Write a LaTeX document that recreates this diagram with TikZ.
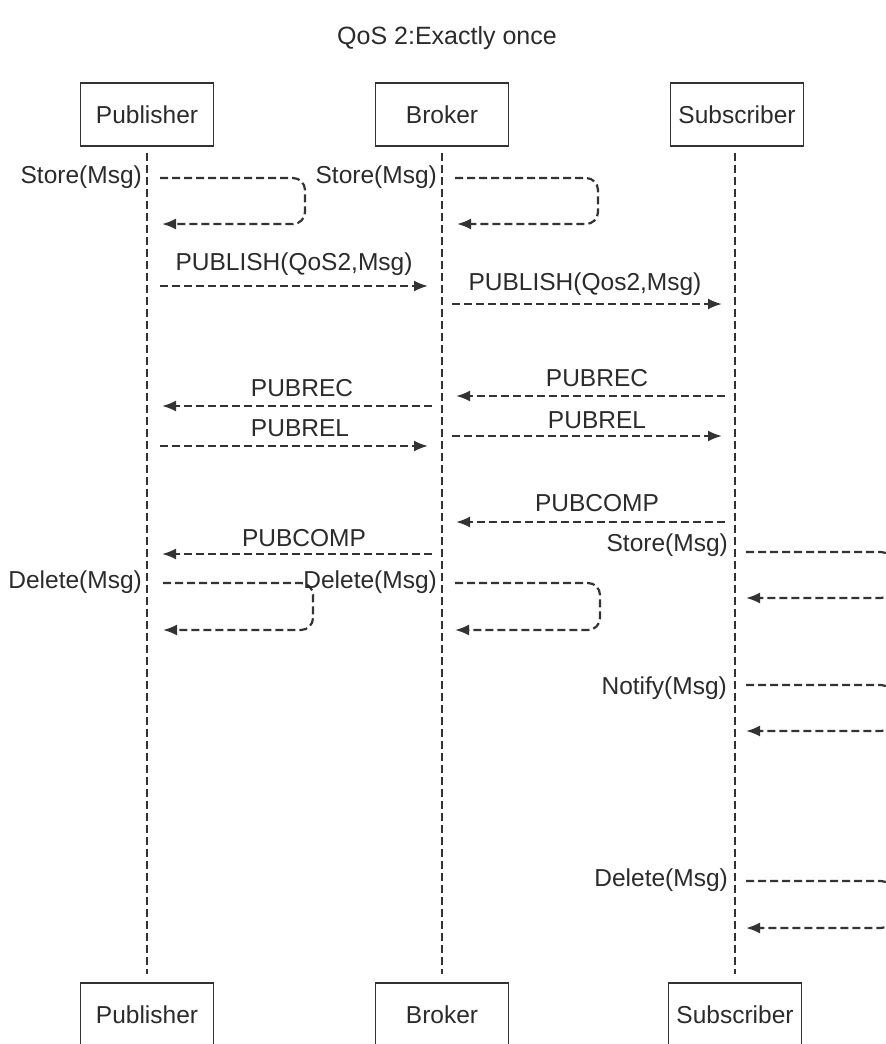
\documentclass[tikz,border=0pt]{standalone}
\usepackage{fontspec}
\setmainfont{Liberation Sans}
\usetikzlibrary{arrows.meta}
\definecolor{linegray}{HTML}{333333}
\definecolor{textgray}{HTML}{2B2B2B}
\tikzset{
  actor/.style={draw=linegray, line width=1.8pt, minimum width=133pt, minimum height=63pt,
    text=textgray, font=\fontsize{24.5}{28}\selectfont},
  lifeline/.style={draw=linegray, line width=2.3pt, dash pattern=on 8pt off 4pt},
  msg/.style={draw=linegray, line width=2.2pt, dash pattern=on 8pt off 4pt,
    -{Latex[length=14pt,width=11pt]}},
  selfloop/.style={msg, rounded corners=12pt},
  lbl/.style={text=textgray, font=\fontsize{24.5}{28}\selectfont, inner sep=0pt},
}
\begin{document}
\begin{tikzpicture}[x=1pt,y=-1pt]
      \useasboundingbox (0,0) rectangle (886,1044);
      % title
      \node[lbl, font=\fontsize{25}{29}\selectfont] (title) at (447,38) {QoS 2:Exactly once};
      % actors
      \node[actor] (pubtop) at (147,114.5) {Publisher};
      \node[actor] (brotop) at (442,114.5) {Broker};
      \node[actor] (subtop) at (737,114.5) {Subscriber};
      \node[actor] (pubbot) at (147,1014.5) {Publisher};
      \node[actor] (brobot) at (442,1014.5) {Broker};
      \node[actor] (subbot) at (735,1014.5) {Subscriber};
      \begin{scope}[shorten <=6pt, shorten >=8pt]
        \draw[lifeline] (pubtop) to (pubbot);
        \draw[lifeline] (brotop) to (brobot);
        \draw[lifeline] (subtop.south -| subbot) to (subbot);
      \end{scope}
      % message end points
      \coordinate (pubA1) at (160,286);  \coordinate (broA1) at (428,286);
      \coordinate (broB1) at (452,304);  \coordinate (subB1) at (722,304);
      \coordinate (subC1) at (725,396);  \coordinate (broC1) at (456,396);
      \coordinate (broD1) at (432,406);  \coordinate (pubD1) at (162,406);
      \coordinate (broE1) at (452,436);  \coordinate (subE1) at (722,436);
      \coordinate (pubF1) at (160,446);  \coordinate (broF1) at (428,446);
      \coordinate (subG1) at (725,522);  \coordinate (broG1) at (456,522);
      \coordinate (broH1) at (432,554);  \coordinate (pubH1) at (162,554);
      % messages
      \draw[msg] (pubA1) to (broA1);
      \draw[msg] (broB1) to (subB1);
      \draw[msg] (subC1) to (broC1);
      \draw[msg] (broD1) to (pubD1);
      \draw[msg] (broE1) to (subE1);
      \draw[msg] (pubF1) to (broF1);
      \draw[msg] (subG1) to (broG1);
      \draw[msg] (broH1) to (pubH1);
      \node[lbl] (pubA) at (294,264) {PUBLISH(QoS2,Msg)};
      \node[lbl] (broB) at (585,284) {PUBLISH(Qos2,Msg)};
      \node[lbl] (subC) at (597,378) {PUBREC};
      \node[lbl] (broD) at (302,388) {PUBREC};
      \node[lbl] (broE) at (597,420) {PUBREL};
      \node[lbl] (pubF) at (300,428) {PUBREL};
      \node[lbl] (subG) at (597,503) {PUBCOMP};
      \node[lbl] (broH) at (304,538) {PUBCOMP};
      % self loops
      \draw[selfloop] (160,178) -- (305,178) -- (305,224) -- (162,224);
      \draw[selfloop] (455,178) -- (598,178) -- (598,224) -- (457,224);
      \draw[selfloop] (163,583) -- (313,583) -- (313,630) -- (163,630);
      \draw[selfloop] (455,583) -- (600,583) -- (600,630) -- (455,630);
      \draw[selfloop] (746,552) -- (893,552) -- (893,598) -- (746,598);
      \draw[selfloop] (746,685) -- (893,685) -- (893,731) -- (746,731);
      \draw[selfloop] (746,881) -- (893,881) -- (893,928) -- (746,928);
      \node[lbl, anchor=east] (pubstore) at (142,177) {Store(Msg)};
      \node[lbl, anchor=east] (brostore) at (437,177) {Store(Msg)};
      \node[lbl, anchor=east] (pubdel) at (142,582) {Delete(Msg)};
      \node[lbl, anchor=east] (brodel) at (437,582) {Delete(Msg)};
      \node[lbl, anchor=east] (substore) at (728,545) {Store(Msg)};
      \node[lbl, anchor=east] (subnotify) at (727,688) {Notify(Msg)};
      \node[lbl, anchor=east] (subdel) at (728,880) {Delete(Msg)};
    \end{tikzpicture}
\end{document}
